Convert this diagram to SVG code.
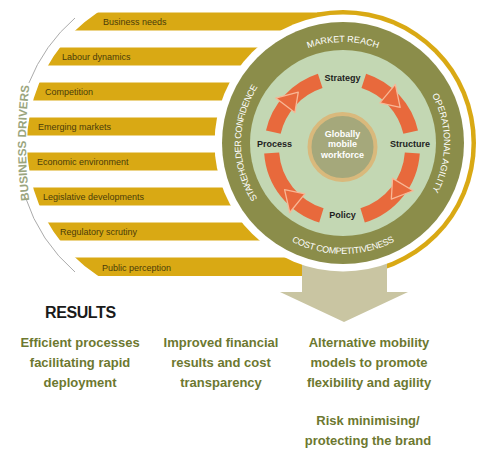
<svg xmlns="http://www.w3.org/2000/svg" width="480" height="464" viewBox="0 0 480 464">
<style>
.bar{fill:#d9a914}
.bt{font-family:"Liberation Sans",Arial,sans-serif;font-size:9px;fill:#4a3c0a}
.ring{font-family:"Liberation Sans",Arial,sans-serif;font-size:9px;fill:#ffffff}
.lbl{font-family:"Liberation Sans",Arial,sans-serif;font-size:9px;font-weight:bold;fill:#1e1e1e;text-anchor:middle}
.ctr{font-family:"Liberation Sans",Arial,sans-serif;font-size:9px;font-weight:bold;fill:#ffffff;text-anchor:middle}
.res{font-family:"Liberation Sans",Arial,sans-serif;font-size:13px;font-weight:bold;fill:#6d7830;text-anchor:middle}
.arc{fill:none;stroke:#e8693c;stroke-width:15}
.tri{fill:#e8693c;stroke:#f8b796;stroke-width:1.3;stroke-linejoin:round}
.gl{fill:none;stroke:#ababab;stroke-width:1}
</style>
<defs>
<clipPath id="barclip"><circle cx="185" cy="144" r="158"/><rect x="185" y="0" width="300" height="464"/></clipPath>
<clipPath id="ringclip"><rect x="317" y="0" width="170" height="464"/></clipPath>
<path id="pTop" d="M 242 143 A 101 101 0 0 1 444 143"/>
<path id="pRight" d="M 343 42 A 101 101 0 0 1 343 244"/>
<path id="pLeft" d="M 343 245 A 102 102 0 0 1 343 41"/>
<path id="pBottom" d="M 232 143 A 111 111 0 0 0 454 143"/>
<path id="pDrivers" d="M 39.9 260 A 500 500 0 0 1 39.9 26"/>
</defs>

<g id="business-drivers-label">
<path class="gl" d="M 75 18 A 168 168 0 0 0 28.9 83"/>
<path class="gl" d="M 25.3 197 A 168 168 0 0 0 75 272"/>
<text font-family="Liberation Sans, Arial, sans-serif" font-size="11.7" font-weight="bold" fill="#9aa57e" text-anchor="middle"><textPath href="#pDrivers" startOffset="50%">BUSINESS DRIVERS</textPath></text>
</g>

<g id="drivers" clip-path="url(#barclip)">
<g id="driver-business-needs"><rect class="bar" x="0" y="12.5" width="345" height="18"/><text class="bt" x="103" y="25.2">Business needs</text></g>
<g id="driver-labour-dynamics"><rect class="bar" x="0" y="47.5" width="345" height="18"/><text class="bt" x="62" y="60.2">Labour dynamics</text></g>
<g id="driver-competition"><rect class="bar" x="0" y="82.5" width="345" height="18"/><text class="bt" x="45" y="95.2">Competition</text></g>
<g id="driver-emerging-markets"><rect class="bar" x="0" y="117.5" width="345" height="18"/><text class="bt" x="38" y="130.2">Emerging markets</text></g>
<g id="driver-economic-environment"><rect class="bar" x="0" y="152.5" width="345" height="18"/><text class="bt" x="37" y="165.2">Economic environment</text></g>
<g id="driver-legislative-developments"><rect class="bar" x="0" y="187.5" width="345" height="18"/><text class="bt" x="43" y="200.2">Legislative developments</text></g>
<g id="driver-regulatory-scrutiny"><rect class="bar" x="0" y="222.5" width="345" height="18"/><text class="bt" x="60" y="235.2">Regulatory scrutiny</text></g>
<g id="driver-public-perception"><rect class="bar" x="0" y="257.5" width="345" height="18.5"/><text class="bt" x="102" y="270.5">Public perception</text></g>
</g>

<g id="gold-ring">
<circle cx="343" cy="143" r="133" fill="#d9a914" clip-path="url(#ringclip)"/>
</g>

<g id="connectors">
<polygon id="results-arrow" points="302,240 387,240 387,292 408,292 344,322 280,292 302,292" fill="#c9c5a2"/>
</g>

<g id="outer-ring">
<circle cx="343" cy="143" r="128.5" fill="#ffffff"/>
<circle cx="343" cy="143" r="121" fill="#8b8d4a"/>
<circle cx="343" cy="143" r="93" fill="#c3d7b3"/>
<text class="ring" text-anchor="middle"><textPath href="#pTop" startOffset="50%">MARKET REACH</textPath></text>
<text class="ring" text-anchor="middle"><textPath href="#pRight" startOffset="50%">OPERATIONAL AGILITY</textPath></text>
<text class="ring" text-anchor="middle" letter-spacing="-0.5"><textPath href="#pLeft" startOffset="50%">STAKEHOLDER CONFIDENCE</textPath></text>
<text class="ring" text-anchor="middle" font-size="8.6" letter-spacing="-0.3"><textPath href="#pBottom" startOffset="50%">COST COMPETITIVENESS</textPath></text>
</g>

<g id="cycle">
<path class="arc" d="M 273.31 132.14 A 70.5 70.5 0 0 1 320.21 80.95"/>
<path class="arc" d="M 363.79 80.95 A 70.5 70.5 0 0 1 410.69 132.14"/>
<path class="arc" d="M 412.33 152.92 A 70.5 70.5 0 0 1 362.61 215.42"/>
<path class="arc" d="M 321.39 215.42 A 70.5 70.5 0 0 1 271.67 152.92"/>
<polygon class="tri" points="275.72,98.05 298.29,92.05 294.88,112.49"/>
<polygon class="tri" points="395.35,84.42 400.16,107.28 379.92,102.81"/>
<polygon class="tri" points="413.15,190.75 391.32,199.07 392.57,178.39"/>
<polygon class="tri" points="289.77,212.5 284.56,189.73 304.87,193.85"/>
</g>

<g id="node-strategy"><text class="lbl" x="342.5" y="81">Strategy</text></g>
<g id="node-structure"><text class="lbl" x="410" y="147">Structure</text></g>
<g id="node-policy"><text class="lbl" x="342.5" y="218">Policy</text></g>
<g id="node-process"><text class="lbl" x="274.5" y="147" font-size="8.7">Process</text></g>

<g id="node-center">
<circle cx="342.5" cy="147" r="33" fill="#a5a87b" stroke="#d9b97c" stroke-width="4"/>
<text class="ctr" x="342.5" y="136.5">Globally</text>
<text class="ctr" x="342.5" y="147">mobile</text>
<text class="ctr" x="342.5" y="157.5">workforce</text>
</g>

<g id="results-title"><text x="45" y="318" font-family="Liberation Sans, Arial, sans-serif" font-size="16" font-weight="bold" letter-spacing="-0.4" fill="#1a1a1a">RESULTS</text></g>

<g id="result-efficient">
<text class="res" x="80" y="347">Efficient processes</text>
<text class="res" x="80" y="367">facilitating rapid</text>
<text class="res" x="80" y="387">deployment</text>
</g>
<g id="result-financial">
<text class="res" x="221" y="347">Improved financial</text>
<text class="res" x="221" y="367">results and cost</text>
<text class="res" x="221" y="387">transparency</text>
</g>
<g id="result-mobility">
<text class="res" x="369" y="347">Alternative mobility</text>
<text class="res" x="369" y="367">models to promote</text>
<text class="res" x="369" y="387">flexibility and agility</text>
</g>
<g id="result-risk">
<text class="res" x="368" y="425">Risk minimising/</text>
<text class="res" x="368" y="445">protecting the brand</text>
</g>
</svg>
